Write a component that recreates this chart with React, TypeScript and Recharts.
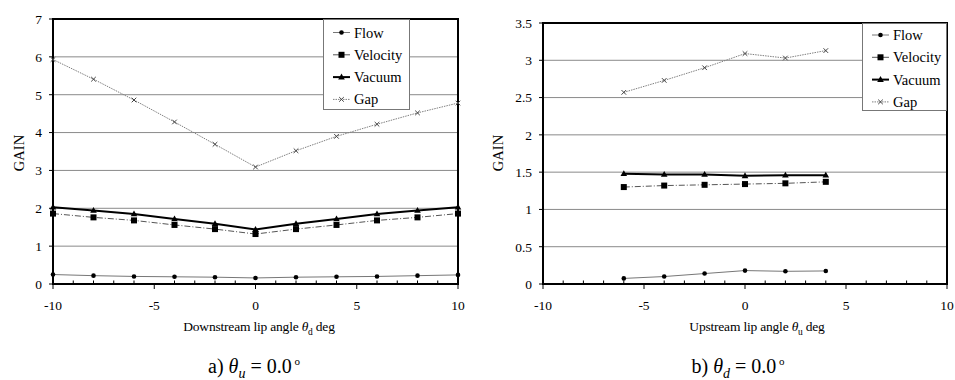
import { LineChart, Line, XAxis, YAxis, CartesianGrid, ReferenceArea } from 'recharts';

const FONT = '"Liberation Serif", "Times New Roman", serif';

// a) theta_u = 0.0 deg, downstream lip angle sweep
const anglesA = [-10, -8, -6, -4, -2, 0, 2, 4, 6, 8, 10];
const flowA = [0.25, 0.22, 0.2, 0.19, 0.18, 0.16, 0.18, 0.19, 0.2, 0.22, 0.24];
const velocityA = [1.86, 1.76, 1.68, 1.56, 1.45, 1.32, 1.45, 1.56, 1.68, 1.76, 1.86];
const vacuumA = [2.03, 1.94, 1.85, 1.72, 1.59, 1.44, 1.59, 1.72, 1.85, 1.94, 2.03];
const gapA = [5.93, 5.41, 4.86, 4.28, 3.69, 3.09, 3.52, 3.9, 4.22, 4.52, 4.78];

// b) theta_d = 0.0 deg, upstream lip angle sweep
const anglesB = [-6, -4, -2, 0, 2, 4];
const flowB = [0.075, 0.1, 0.14, 0.18, 0.17, 0.175];
const velocityB = [1.3, 1.32, 1.33, 1.34, 1.35, 1.37];
const vacuumB = [1.48, 1.47, 1.47, 1.45, 1.46, 1.46];
const gapB = [2.57, 2.73, 2.9, 3.09, 3.03, 3.13];

const xTicks = [-10, -5, 0, 5, 10];
const xAllTicks = [-10, -9, -8, -7, -6, -5, -4, -3, -2, -1, 0, 1, 2, 3, 4, 5, 6, 7, 8, 9, 10];
const yTicksA = [0, 1, 2, 3, 4, 5, 6, 7];
const yTicksB = [0, 0.5, 1, 1.5, 2, 2.5, 3, 3.5];
const seriesNames = ['Flow', 'Velocity', 'Vacuum', 'Gap'];

const buildRows = (angles: number[], flow: number[], velocity: number[], vacuum: number[], gap: number[]) =>
    angles.map((angle, i) => ({ angle, flow: flow[i], velocity: velocity[i], vacuum: vacuum[i], gap: gap[i] }));

const rowsA = buildRows(anglesA, flowA, velocityA, vacuumA, gapA);
const rowsB = buildRows(anglesB, flowB, velocityB, vacuumB, gapB);

const FlowDot = ({ cx, cy }: any) => (cx == null ? null : <circle cx={cx} cy={cy} r={2.3} fill="#000" />);
const SquareDot = ({ cx, cy }: any) => (cx == null ? null : <rect x={cx - 3} y={cy - 3} width={6} height={6} fill="#000" />);
const TriDot = ({ cx, cy }: any) =>
    cx == null ? null : <polygon points={`${cx},${cy - 3.5} ${cx - 3.3},${cy + 2.3} ${cx + 3.3},${cy + 2.3}`} fill="#000" />;
const CrossDot = ({ cx, cy }: any) =>
    cx == null ? null : (
        <path d={`M${cx - 2.3},${cy - 2.3}L${cx + 2.3},${cy + 2.3}M${cx - 2.3},${cy + 2.3}L${cx + 2.3},${cy - 2.3}`} stroke="#444" strokeWidth={1} />
    );

const styles = [
    { key: 'flow', stroke: '#777', width: 1, dash: undefined, Dot: FlowDot },
    { key: 'velocity', stroke: '#555', width: 1, dash: '6 2 1 2', Dot: SquareDot },
    { key: 'vacuum', stroke: '#000', width: 2, dash: undefined, Dot: TriDot },
    { key: 'gap', stroke: '#808080', width: 1, dash: '1.5 1', Dot: CrossDot },
];

const TICK_SIZE = 5;
const TICK_MARGIN = 11;

// major ticks point down with a label, minor ticks point up into the plot
const AngleTick = ({ x, y, payload }: any) => {
    const v = payload.value;
    const axisY = y - TICK_SIZE - TICK_MARGIN;
    const major = xTicks.includes(v);
    return (
        <g>
            <line x1={x} x2={x} y1={major ? axisY : axisY - 3.5} y2={major ? axisY + 5 : axisY} stroke="#000" strokeWidth={1} />
            {major && (
                <text x={x} y={y} dy="0.71em" textAnchor="middle" fontFamily={FONT} fontSize={13.5} fill="#000">
                    {v}
                </text>
            )}
        </g>
    );
};

const LegendBox = ({ left, top, width, height, firstRow }: any) => (
    <div style={{ position: 'absolute', left, top, width, height, background: '#fff', border: '1px solid #777', boxSizing: 'border-box' }}>
        <svg width={width} height={height} style={{ position: 'absolute', left: 0, top: 0 }}>
            {styles.map((s, i) => {
                const y = firstRow + i * 22.3;
                const Dot = s.Dot;
                return (
                    <g key={s.key}>
                        <line x1={9} x2={26} y1={y} y2={y} stroke={s.stroke} strokeWidth={s.width} strokeDasharray={s.dash} />
                        <Dot cx={17.5} cy={y} />
                        <text x={30} y={y + 5} fontFamily={FONT} fontSize={14.5} fill="#000">{seriesNames[i]}</text>
                    </g>
                );
            })}
        </svg>
    </div>
);

const Panel = ({ left, data, yMax, yTicks, yWidth, margin, legend, gainX, axisTitle, caption, titleX, captionX }: any) => (
    <>
        <div style={{ position: 'absolute', left, top: 0 }}>
            <LineChart width={475} height={320} data={data} margin={margin}>
                <CartesianGrid vertical={false} stroke="#8a8a8a" />
                <XAxis
                    dataKey="angle"
                    type="number"
                    domain={[-10, 10]}
                    ticks={xAllTicks}
                    interval={0}
                    axisLine={false}
                    tickSize={TICK_SIZE}
                    tickMargin={TICK_MARGIN}
                    tickLine={false}
                    height={36}
                    tick={<AngleTick />}
                />
                <YAxis
                    type="number"
                    domain={[0, yMax]}
                    ticks={yTicks}
                    width={yWidth}
                    axisLine={false}
                    tickSize={4}
                    tickMargin={7}
                    tickLine={{ stroke: '#000' }}
                    tick={{ fill: '#000', fontSize: 13.5, fontFamily: FONT }}
                />
                <ReferenceArea x1={-10} x2={10} y1={0} y2={yMax} fill="none" stroke="#000" strokeWidth={2} />
                {styles.map((s) => (
                    <Line
                        key={s.key}
                        dataKey={s.key}
                        stroke={s.stroke}
                        strokeWidth={s.width}
                        strokeDasharray={s.dash}
                        dot={<s.Dot />}
                        activeDot={false}
                        isAnimationActive={false}
                    />
                ))}
            </LineChart>
        </div>
        <LegendBox {...legend} />
        <div
            style={{
                position: 'absolute', left: gainX, top: 153, transform: 'translate(-50%, -50%) rotate(-90deg)',
                fontSize: 14.5, fontFamily: FONT, whiteSpace: 'nowrap', lineHeight: 1,
            }}
        >
            GAIN
        </div>
        <div
            style={{
                position: 'absolute', left: titleX, top: 329, transform: 'translate(-50%, -50%)',
                fontSize: 13.5, fontFamily: FONT, whiteSpace: 'nowrap', lineHeight: 1, letterSpacing: '-0.2px',
            }}
        >
            {axisTitle}
        </div>
        <div
            style={{
                position: 'absolute', left: captionX, top: 368, transform: 'translate(-50%, -50%)',
                fontSize: 20, fontFamily: FONT, whiteSpace: 'nowrap', lineHeight: 1,
            }}
        >
            {caption}
        </div>
    </>
);

const Theta = ({ sub, italicSub }: { sub: string; italicSub?: boolean }) => (
    <span>
        <i>θ</i>
        <sub style={{ fontSize: '0.7em', fontStyle: italicSub ? 'italic' : 'normal' }}>{sub}</sub>
    </span>
);

export default function App() {
    return (
        <div style={{ position: 'absolute', left: 0, top: 0, width: 955, height: 380, background: '#fff', overflow: 'hidden' }}>
            <Panel
                left={0}
                data={rowsA}
                yMax={7}
                yTicks={yTicksA}
                yWidth={53}
                margin={{ top: 19, right: 17, bottom: 0, left: 0 }}
                legend={{ left: 323, top: 19, width: 87, height: 91, firstRow: 12.5 }}
                gainX={19}
                titleX={259}
                captionX={254}
                axisTitle={<>Downstream lip angle <Theta sub="d" /> deg</>}
                caption={<>a) <Theta sub="u" italicSub /> = 0.0<sup style={{ fontSize: '0.55em' }}> o</sup></>}
            />
            <Panel
                left={480}
                data={rowsB}
                yMax={3.5}
                yTicks={yTicksB}
                yWidth={63}
                margin={{ top: 23, right: 8, bottom: 0, left: 0 }}
                legend={{ left: 862, top: 23, width: 85, height: 88, firstRow: 11 }}
                gainX={498}
                titleX={757}
                captionX={738}
                axisTitle={<>Upstream lip angle <Theta sub="u" /> deg</>}
                caption={<>b) <Theta sub="d" italicSub /> = 0.0<sup style={{ fontSize: '0.55em' }}> o</sup></>}
            />
        </div>
    );
}
